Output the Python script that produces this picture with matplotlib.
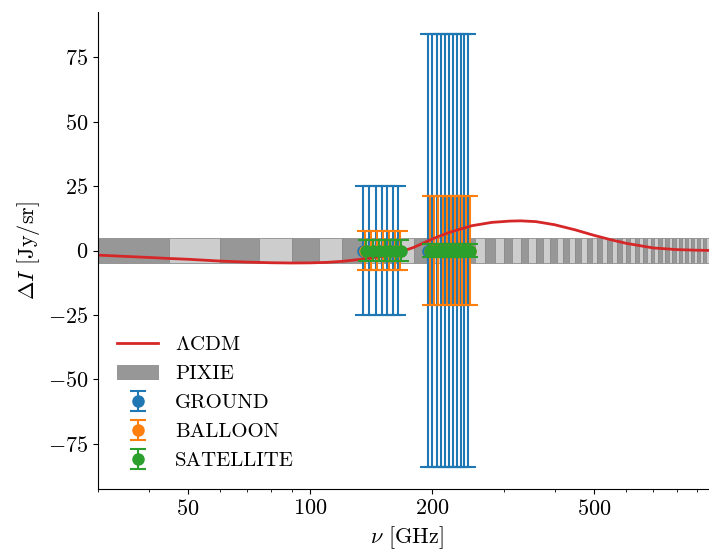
import numpy as np
import matplotlib.pyplot as plt
from matplotlib.ticker import ScalarFormatter, NullFormatter

plt.rcParams['font.family'] = 'serif'
plt.rcParams['font.serif'] = ['cmr10']
plt.rcParams['mathtext.fontset'] = 'cm'
plt.rcParams['axes.formatter.use_mathtext'] = True
plt.rcParams['font.size'] = 16

# LCDM spectral distortion
lcdm_nu = [30, 40, 45, 50, 60, 70, 80, 90, 100, 110, 120, 130, 140, 150, 160, 170,
           180, 200, 220, 250, 280, 310, 330, 360, 400, 450, 500, 550, 600, 700,
           800, 900, 1000]
lcdm_dI = [-1.8, -2.7, -3.1, -3.4, -4.1, -4.5, -4.75, -4.85, -4.8, -4.6, -4.2, -3.6,
           -3.0, -2.3, -1.3, -0.1, 1.2, 4.5, 7.0, 9.6, 10.9, 11.4, 11.5, 11.2, 10.0,
           8.0, 5.9, 4.2, 2.8, 1.0, 0.35, 0.1, 0.0]

# PIXIE channels, 15 GHz wide, +-5 Jy/sr
pixie_nu = np.arange(37.5, 1000, 15)
pixie_sigma = 5.0

# experiments: channel frequencies [GHz] and 1-sigma errors [Jy/sr]
ground_nu = [135, 140, 145, 150, 155, 160, 165,
             195, 200, 205, 210, 215, 220, 225, 230, 235, 240, 245]
ground_err = [25] * 7 + [84] * 11

balloon_nu = [136.5, 141.5, 146.5, 151.5, 156.5, 161.5, 166.5,
              197, 202, 207, 212, 217, 222, 227, 232, 237, 242, 247]
balloon_err = [7.5] * 7 + [21] * 11

sat_nu = [137.5, 142.5, 147.5, 152.5, 157.5, 162.5, 167.5,
          197.5, 202.5, 207.5, 212.5, 217.5, 222.5, 227.5, 232.5, 237.5, 242.5, 247.5]
sat_err = [4] * 7 + [2.5] * 11

fig = plt.figure(figsize=(7.09, 5.51), dpi=100)
ax = fig.add_axes([98 / 709, 62 / 551, 618 / 709, 477 / 551])

bar_colors = ['#979797' if i % 2 == 0 else '#cdcdcd' for i in range(len(pixie_nu))]
ax.bar(pixie_nu, 2 * pixie_sigma, bottom=-pixie_sigma, width=15, color=bar_colors,
       edgecolor='#8c8c8c', linewidth=0.6, label='PIXIE', zorder=1)

ax.errorbar(ground_nu, np.zeros(len(ground_nu)), yerr=ground_err, fmt='o', ms=8,
            capsize=6, capthick=1.5, color='#1f77b4', label='GROUND', zorder=2)
ax.errorbar(balloon_nu, np.zeros(len(balloon_nu)), yerr=balloon_err, fmt='o', ms=8,
            capsize=6, capthick=1.5, color='#ff7f0e', label='BALLOON', zorder=2.1)
ax.plot(lcdm_nu, lcdm_dI, color='#d62728', lw=2, label=r'$\Lambda$CDM', zorder=2.5)
ax.errorbar(sat_nu, np.zeros(len(sat_nu)), yerr=sat_err, fmt='o', ms=8,
            capsize=6, capthick=1.5, color='#2ca02c', label='SATELLITE', zorder=3)

ax.set_xscale('log')
ax.set_xlim(30, 1000)
ax.set_ylim(-92.5, 92.5)
ax.set_xticks([50, 100, 200, 500])
ax.xaxis.set_major_formatter(ScalarFormatter())
ax.xaxis.set_minor_formatter(NullFormatter())
ax.set_yticks([-75, -50, -25, 0, 25, 50, 75])
ax.spines['top'].set_visible(False)
ax.spines['right'].set_visible(False)

ax.set_xlabel(r'$\nu$ [GHz]')
ax.set_ylabel(r'$\Delta I$ [Jy/sr]')
ax.legend(loc='lower left', frameon=False, fontsize=15)

fig.savefig('out.png', dpi=100)
